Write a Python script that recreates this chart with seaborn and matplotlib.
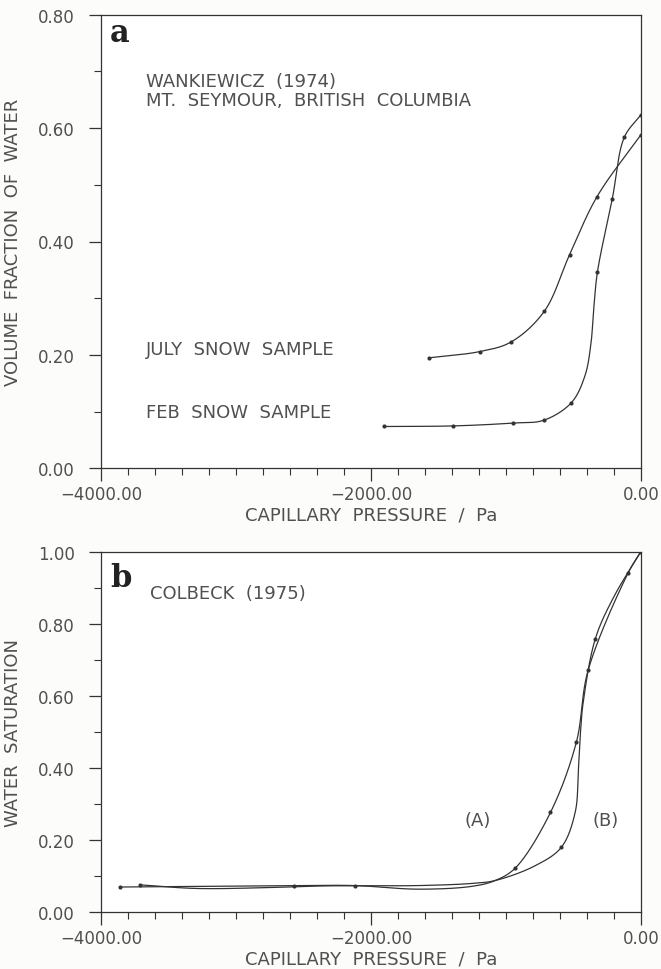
import numpy as np
import pandas as pd
import matplotlib
matplotlib.use('Agg')
import matplotlib.pyplot as plt
import seaborn as sns
from matplotlib.ticker import FixedLocator, FixedFormatter, MultipleLocator

######################
# datos
######################

# (a) Wankiewicz (1974), presion capilar en Pa y fraccion volumetrica de agua
july_p = [-1570, -1195, -962, -716, -528, -325, 0]
july_v = [0.195, 0.206, 0.223, 0.277, 0.377, 0.479, 0.588]
feb_p = [-1905, -1392, -950, -720, -515, -322, -212, -122, 0]
feb_v = [0.074, 0.075, 0.080, 0.085, 0.116, 0.346, 0.475, 0.584, 0.623]
# puntos sobre la curva dibujada (sin marcador)
feb_trace_p = [-415, -370, -350]
feb_trace_v = [0.163, 0.220, 0.280]

# (b) Colbeck (1975), saturacion de agua
a_p = [-3865, -2570, -2120, -930, -670, -478, -391, -93, 0]
a_s = [0.070, 0.074, 0.074, 0.123, 0.277, 0.472, 0.671, 0.942, 1.000]
a_trace_p = [-1650, -1250, -1080]
a_trace_s = [0.064, 0.072, 0.088]
b_p = [-3712, -590, -338, 0]
b_s = [0.076, 0.180, 0.758, 1.000]
b_trace_p = [-3300, -2800, -2350, -1650, -1250, -1080, -784, -487, -463, -446, -430, -200]
b_trace_s = [0.066, 0.068, 0.073, 0.074, 0.080, 0.088, 0.129, 0.277, 0.397, 0.508, 0.575, 0.875]

x_ticks = [-4000, -2000, 0]
x_labels = ['\u22124000.00', '\u22122000.00', '0.00']
ya_ticks = [0.0, 0.2, 0.4, 0.6, 0.8]
ya_labels = ['0.00', '0.20', '0.40', '0.60', '0.80']
yb_ticks = [0.0, 0.2, 0.4, 0.6, 0.8, 1.0]
yb_labels = ['0.00', '0.20', '0.40', '0.60', '0.80', '1.00']

INK = '#333333'
TXT = '#505050'


def suave(P, n=40, alpha=0.5):
    # catmull-rom centripeta para trazar la linea entre los puntos
    P = np.vstack([2 * P[0] - P[1], P, 2 * P[-1] - P[-2]])
    out = []
    for i in range(len(P) - 3):
        p0, p1, p2, p3 = P[i:i + 4]
        t0 = 0.0
        t1 = t0 + np.linalg.norm(p1 - p0) ** alpha
        t2 = t1 + np.linalg.norm(p2 - p1) ** alpha
        t3 = t2 + np.linalg.norm(p3 - p2) ** alpha
        t = np.linspace(t1, t2, n)[:, None]
        A1 = (t1 - t) / (t1 - t0) * p0 + (t - t0) / (t1 - t0) * p1
        A2 = (t2 - t) / (t2 - t1) * p1 + (t - t1) / (t2 - t1) * p2
        A3 = (t3 - t) / (t3 - t2) * p2 + (t - t2) / (t3 - t2) * p3
        B1 = (t2 - t) / (t2 - t0) * A1 + (t - t0) / (t2 - t0) * A2
        B2 = (t3 - t) / (t3 - t1) * A2 + (t - t1) / (t3 - t1) * A3
        out.append((t2 - t) / (t2 - t1) * B1 + (t - t1) / (t2 - t1) * B2)
    return np.vstack(out)


def curva(ax, p, v, ypx, tp=(), tv=()):
    pts = sorted(zip(list(p) + list(tp), list(v) + list(tv)))
    # escala en pixeles aprox. para que la curva no dependa del aspecto
    sx, sy = 540 / 4000, ypx
    P = np.array([[q[0] * sx, q[1] * sy] for q in pts])
    C = suave(P)
    df = pd.DataFrame({'p': C[:, 0] / sx, 'v': C[:, 1] / sy})
    sns.lineplot(data=df, x='p', y='v', ax=ax, color=INK, lw=0.9,
                 estimator=None, sort=False)
    sns.scatterplot(x=p, y=v, ax=ax, color=INK, s=9, marker='o',
                    linewidth=0, zorder=3)


def ejes(ax, yt, yl, ymax, ylabel):
    ax.set_xlim(-4000, 0)
    ax.set_ylim(0, ymax)
    ax.xaxis.set_major_locator(FixedLocator(x_ticks))
    ax.xaxis.set_major_formatter(FixedFormatter(x_labels))
    ax.xaxis.set_minor_locator(MultipleLocator(200))
    ax.yaxis.set_major_locator(FixedLocator(yt))
    ax.yaxis.set_major_formatter(FixedFormatter(yl))
    ax.yaxis.set_minor_locator(MultipleLocator(0.1))
    ax.tick_params(which='major', length=9, width=0.9, color=INK,
                   labelsize=12, labelcolor=TXT, direction='out')
    ax.tick_params(which='minor', length=5, width=0.8, color=INK,
                   direction='out')
    ax.tick_params(axis='y', pad=10)
    ax.tick_params(axis='x', pad=3)
    for s in ax.spines.values():
        s.set_visible(True)
        s.set_color(INK)
        s.set_linewidth(0.9)
    ax.set_xlabel('CAPILLARY  PRESSURE  /  Pa', fontsize=13, color=TXT,
                  labelpad=2)
    ax.set_ylabel(ylabel, fontsize=13, color=TXT, labelpad=12)
    ax.set_facecolor('white')


sns.set_theme(style='ticks')
plt.rcParams['font.family'] = ['DejaVu Sans']

fig = plt.figure(figsize=(6.61, 9.70), dpi=100)
fig.patch.set_facecolor('#fcfcfa')

ax1 = fig.add_axes([0.1535, 0.516, 0.816, 0.468])
curva(ax1, july_p, july_v, 454 / 0.8)
curva(ax1, feb_p, feb_v, 454 / 0.8, feb_trace_p, feb_trace_v)
ejes(ax1, ya_ticks, ya_labels, 0.8, 'VOLUME  FRACTION  OF  WATER')
ax1.text(-3935, 0.753, 'a', fontsize=22, fontweight='bold',
         family='DejaVu Serif', color='#222222', va='baseline')
ax1.text(-3667, 0.683, 'WANKIEWICZ  (1974)', fontsize=13, color=TXT,
         va='center')
ax1.text(-3667, 0.650, 'MT.  SEYMOUR,  BRITISH  COLUMBIA', fontsize=13,
         color=TXT, va='center')
ax1.text(-3667, 0.211, 'JULY  SNOW  SAMPLE', fontsize=13, color=TXT,
         va='center')
ax1.text(-3667, 0.100, 'FEB  SNOW  SAMPLE', fontsize=13, color=TXT,
         va='center')

ax2 = fig.add_axes([0.1535, 0.0585, 0.816, 0.3717])
curva(ax2, a_p, a_s, 360.6, a_trace_p, a_trace_s)
curva(ax2, b_p, b_s, 360.6, b_trace_p, b_trace_s)
ejes(ax2, yb_ticks, yb_labels, 1.0, 'WATER  SATURATION')
ax2.text(-3935, 0.905, 'b', fontsize=22, fontweight='bold',
         family='DejaVu Serif', color='#222222', va='baseline')
ax2.text(-3640, 0.885, 'COLBECK  (1975)', fontsize=13, color=TXT,
         va='center')
ax2.text(-1211, 0.256, '(A)', fontsize=13, color=TXT, ha='center',
         va='center')
ax2.text(-263, 0.256, '(B)', fontsize=13, color=TXT, ha='center',
         va='center')

fig.savefig('out.png', dpi=100, facecolor=fig.get_facecolor())
